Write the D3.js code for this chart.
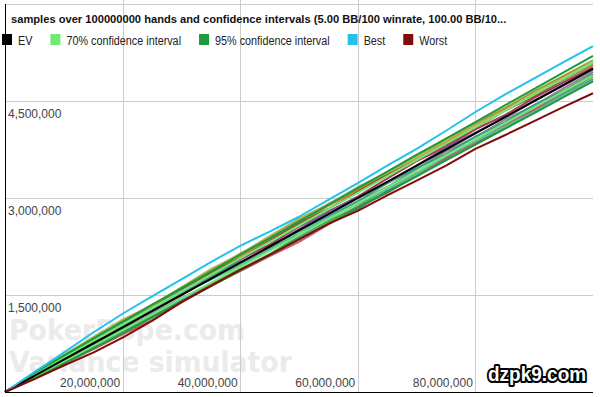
<!DOCTYPE html>
<html>
<head>
<meta charset="utf-8">
<script src="https://cdn.jsdelivr.net/npm/d3@7/dist/d3.min.js"></script>
<style>
  body { margin: 0; background: #fff; }
  svg { display: block; font-family: "Liberation Sans", Arial, sans-serif; }
  .grid line { stroke: #cccccc; shape-rendering: crispEdges; }
  .grid text { fill: #444; font-size: 13.5px; }
  .series { fill: none; stroke-width: 2; stroke-linejoin: round; }
</style>
</head>
<body>
<script>
var width = 600, height = 397;

// hands played, in millions
var hands = [0, 5, 10, 15, 20, 25, 30, 35, 40, 45, 50, 55, 60, 65, 70, 75, 80, 85, 90, 95, 100];

// winnings in millions of BB
var ev     = [0, 0.25, 0.50, 0.75, 1.00, 1.25, 1.50, 1.75, 2.00, 2.25, 2.50, 2.75, 3.00, 3.25, 3.50, 3.75, 4.00, 4.25, 4.50, 4.75, 5.00];
var ci70Hi = [0, 0.273, 0.533, 0.790, 1.046, 1.302, 1.557, 1.811, 2.066, 2.319, 2.573, 2.827, 3.080, 3.334, 3.587, 3.840, 4.093, 4.346, 4.598, 4.851, 5.104];
var ci70Lo = [0, 0.227, 0.467, 0.710, 0.954, 1.198, 1.443, 1.689, 1.934, 2.181, 2.427, 2.673, 2.920, 3.166, 3.413, 3.660, 3.907, 4.154, 4.402, 4.649, 4.896];
var ci95Hi = [0, 0.294, 0.562, 0.826, 1.088, 1.348, 1.607, 1.866, 2.124, 2.381, 2.639, 2.895, 3.152, 3.408, 3.664, 3.920, 4.175, 4.431, 4.686, 4.941, 5.196];
var ci95Lo = [0, 0.206, 0.438, 0.674, 0.912, 1.152, 1.393, 1.634, 1.876, 2.119, 2.361, 2.605, 2.848, 3.092, 3.336, 3.580, 3.825, 4.069, 4.314, 4.559, 4.804];
var best   = [0, 0.31, 0.61, 0.92, 1.21, 1.48, 1.74, 2.01, 2.26, 2.48, 2.71, 2.97, 3.23, 3.50, 3.76, 4.04, 4.33, 4.60, 4.85, 5.10, 5.35];
var worst  = [0, 0.20, 0.41, 0.61, 0.84, 1.10, 1.39, 1.64, 1.89, 2.12, 2.36, 2.60, 2.80, 3.04, 3.27, 3.50, 3.76, 3.97, 4.19, 4.41, 4.62];

var samples = [
    [0, 0.27, 0.55, 0.81, 1.08, 1.35, 1.59, 1.87, 2.14, 2.38, 2.65, 2.91, 3.14, 3.40, 3.67, 3.91, 4.15, 4.39, 4.65, 4.89, 5.13],
    [0, 0.26, 0.53, 0.80, 1.04, 1.32, 1.60, 1.83, 2.11, 2.37, 2.60, 2.88, 3.12, 3.35, 3.62, 3.86, 4.13, 4.37, 4.60, 4.86, 5.10],
    [0, 0.28, 0.52, 0.79, 1.07, 1.30, 1.58, 1.85, 2.07, 2.34, 2.61, 2.83, 3.10, 3.37, 3.59, 3.82, 4.08, 4.35, 4.57, 4.83, 5.06],
    [0, 0.24, 0.47, 0.73, 1.01, 1.28, 1.50, 1.77, 2.05, 2.28, 2.56, 2.79, 3.02, 3.30, 3.57, 3.79, 4.06, 4.28, 4.55, 4.79, 5.02],
    [0, 0.27, 0.54, 0.76, 0.98, 1.26, 1.53, 1.75, 1.97, 2.24, 2.52, 2.79, 3.01, 3.23, 3.50, 3.78, 4.01, 4.24, 4.50, 4.74, 4.98],
    [0, 0.23, 0.49, 0.71, 0.94, 1.22, 1.45, 1.67, 1.94, 2.21, 2.43, 2.66, 2.94, 3.17, 3.45, 3.72, 3.94, 4.21, 4.43, 4.70, 4.95],
    [0, 0.28, 0.56, 0.83, 1.05, 1.28, 1.56, 1.79, 2.01, 2.23, 2.50, 2.72, 2.95, 3.23, 3.46, 3.68, 3.95, 4.17, 4.44, 4.66, 4.92],
    [0, 0.25, 0.47, 0.70, 0.97, 1.19, 1.41, 1.68, 1.90, 2.13, 2.41, 2.64, 2.87, 3.15, 3.38, 3.61, 3.89, 4.12, 4.40, 4.63, 4.88],
    [0, 0.23, 0.46, 0.72, 0.94, 1.17, 1.43, 1.65, 1.88, 2.11, 2.38, 2.60, 2.83, 3.11, 3.34, 3.62, 3.85, 4.08, 4.36, 4.60, 4.84],
    [0, 0.22, 0.44, 0.66, 0.89, 1.11, 1.38, 1.65, 1.87, 2.10, 2.32, 2.59, 2.86, 3.08, 3.35, 3.63, 3.86, 4.14, 4.37, 4.65, 4.90],
    [0, 0.29, 0.57, 0.85, 1.12, 1.34, 1.62, 1.90, 2.13, 2.41, 2.68, 2.90, 3.17, 3.39, 3.62, 3.90, 4.13, 4.35, 4.62, 4.84, 5.08],
    [0, 0.27, 0.50, 0.73, 1.01, 1.29, 1.52, 1.74, 1.96, 2.19, 2.47, 2.69, 2.91, 3.14, 3.37, 3.65, 3.88, 4.10, 4.33, 4.59, 4.82]
];
var sampleColors = ["#9a9a3c", "#d9842e", "#8c5a3c", "#a8385a", "#7a5a9a", "#8c8c8c",
                    "#3c9c8c", "#4ca24c", "#4c7c9c", "#c25c6c", "#b2b452", "#5cbf9c"];

var legendNames  = ["EV", "70% confidence interval", "95% confidence interval", "Best", "Worst"];
var legendColors = ["#000000", "#70ea70", "#1f9a3e", "#22c2ea", "#800c0c"];

var xTicks = [20, 40, 60, 80];
var yTicks = [1.5, 3, 4.5, 6];

var title = "samples over 100000000 hands and confidence intervals (5.00 BB/100 winrate, 100.00 BB/10...";

var svg = d3.select("body").append("svg")
    .attr("width", width)
    .attr("height", height);

var x = d3.scaleLinear().domain([0, 100]).range([5, 593]);
var y = d3.scaleLinear().domain([0, 6]).range([392, 4]);
var fmt = d3.format(",");

// the source picture is squeezed sideways, so texts get a scaleX
function narrow_text(sel, px, py, sx) {
    return sel.attr("x", 0).attr("y", 0).attr("dy", 0)
        .attr("transform", "translate(" + px + "," + py + ") scale(" + sx + ",1)");
}

// watermark
["PokerDope.com", "Variance simulator"].forEach(function(w, i) {
    narrow_text(svg.append("text"), 9, 340 + i * 32, 0.92)
        .style("font-family", "'DejaVu Sans', Verdana, sans-serif")
        .style("font-weight", "bold").style("font-size", "29px")
        .style("fill", "#ebebeb")
        .text(w);
});

// grid lines with labels inside the plot
var gy = svg.append("g")
    .attr("class", "grid")
    .attr("transform", "translate(5,0)")
    .call(d3.axisRight(y).tickValues(yTicks).tickSize(588)
        .tickFormat(function(d) { return d < 6 ? fmt(d * 1e6) : ""; }));
gy.select(".domain").remove();
narrow_text(gy.selectAll("text"), 3, 16, 0.89).attr("text-anchor", "start");

var gx = svg.append("g")
    .attr("class", "grid")
    .attr("transform", "translate(0,392)")
    .call(d3.axisTop(x).tickValues(xTicks).tickSize(392)
        .tickFormat(function(d) { return fmt(d * 1e6); }));
gx.select(".domain").remove();
narrow_text(gx.selectAll("text"), -3, -5, 0.89).attr("text-anchor", "end");

// series
var line = d3.line()
    .x(function(d, i) { return x(hands[i]); })
    .y(function(d) { return y(d); });

samples.forEach(function(s, i) {
    svg.append("path").attr("class", "series")
        .attr("d", line(s)).style("stroke", sampleColors[i]);
});

[[ci70Hi, 1], [ci70Lo, 1], [ci95Hi, 2], [ci95Lo, 2], [ev, 0], [best, 3], [worst, 4]].forEach(function(p) {
    svg.append("path").attr("class", "series")
        .attr("d", line(p[0])).style("stroke", legendColors[p[1]]);
});

// axis lines
svg.append("line")
    .attr("x1", 5.5).attr("x2", 5.5).attr("y1", 4).attr("y2", 392.5)
    .style("stroke", "#000");
svg.append("line")
    .attr("x1", 5).attr("x2", 593).attr("y1", 392.5).attr("y2", 392.5)
    .style("stroke", "#000");

// title
narrow_text(svg.append("text"), 11, 23, 0.97)
    .style("font-weight", "bold").style("font-size", "11.5px")
    .style("fill", "#111")
    .text(title);

// legend
var lx = 2;
legendNames.forEach(function(name, i) {
    svg.append("rect")
        .attr("x", lx).attr("y", 34)
        .attr("width", 10).attr("height", 11)
        .style("fill", legendColors[i]);
    var t = narrow_text(svg.append("text"), lx + 16, 44.5, 0.8)
        .style("font-size", "13.5px").style("fill", "#222")
        .text(name);
    lx = lx + 16 + t.node().getComputedTextLength() * 0.8 + 18;
});

// site stamp
narrow_text(svg.append("text"), 488, 381, 0.95)
    .style("font-family", "'Liberation Sans', Arial, sans-serif")
    .style("font-weight", "bold").style("font-size", "20px")
    .style("fill", "#fff").style("stroke", "#000")
    .style("stroke-width", 4).style("stroke-linejoin", "round")
    .style("paint-order", "stroke")
    .text("dzpk9.com");
</script>
</body>
</html>
